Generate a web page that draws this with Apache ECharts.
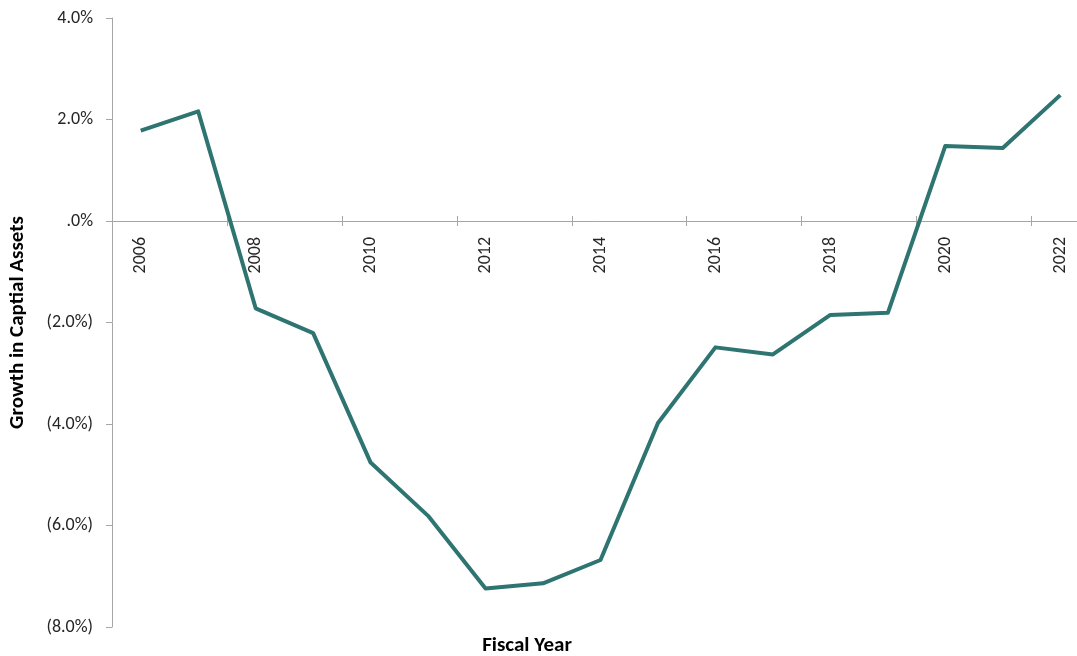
<!DOCTYPE html>
<html>
<head>
<meta charset="utf-8">
<script src="https://cdn.jsdelivr.net/npm/echarts@6/dist/echarts.min.js"></script>
<style>
  html, body { margin: 0; padding: 0; background: #fff; }
  #chart { width: 1077px; height: 656px; }
</style>
</head>
<body>
<div id="chart"></div>
<script>
// Fiscal years and annual growth in capital assets (percent)
const years = ['2006','2007','2008','2009','2010','2011','2012','2013','2014','2015','2016','2017','2018','2019','2020','2021','2022'];
const growth = [1.78, 2.16, -1.72, -2.21, -4.76, -5.81, -7.24, -7.14, -6.68, -3.98, -2.49, -2.63, -1.85, -1.81, 1.48, 1.44, 2.48];
const yTicks = { min: -8, max: 4, step: 2 };

const FONT = 'Carlito, Lato, "Liberation Sans", sans-serif';
const W = 1077, H = 656;
// the plot runs slightly past the right edge of the canvas
const grid = { left: 112, right: -12, top: 18, bottom: 29 };

// The category axis sits on the zero line, so shift it up from the grid bottom
const plotH = H - grid.top - grid.bottom;
const zeroFromBottom = plotH * (0 - yTicks.min) / (yTicks.max - yTicks.min);

function pct(v) {
  if (v === 0) return '.0%';
  return v < 0 ? '(' + Math.abs(v).toFixed(1) + '%)' : v.toFixed(1) + '%';
}

const axisGrey = '#a6a6a6';
const chart = echarts.init(document.getElementById('chart'));
chart.setOption({
  backgroundColor: '#ffffff',
  animation: false,
  grid: Object.assign({ containLabel: false, outerBoundsMode: 'none' }, grid),
  xAxis: [{
    type: 'category',
    data: years,
    boundaryGap: true,
    offset: -zeroFromBottom,
    axisLine: { onZero: false, lineStyle: { color: axisGrey, width: 1 } },
    axisTick: { show: true, interval: 1, length: 5, lineStyle: { color: axisGrey } },
    axisLabel: {
      interval: 1, rotate: 90, margin: 16,
      color: '#262626', fontFamily: FONT, fontSize: 18
    },
    splitLine: { show: false }
  }, {
    // upper half of the crossing tick marks
    type: 'category',
    data: years,
    boundaryGap: true,
    position: 'bottom',
    offset: -zeroFromBottom,
    axisLine: { show: false, onZero: false },
    axisTick: { show: true, inside: true, interval: 1, length: 5, lineStyle: { color: axisGrey } },
    axisLabel: { show: false },
    splitLine: { show: false }
  }],
  yAxis: {
    type: 'value',
    min: yTicks.min, max: yTicks.max, interval: yTicks.step,
    axisLine: { show: true, lineStyle: { color: axisGrey, width: 1 } },
    axisTick: { show: true, length: 6, lineStyle: { color: axisGrey } },
    axisLabel: {
      formatter: pct, margin: 19,
      color: '#262626', fontFamily: FONT, fontSize: 18
    },
    splitLine: { show: false },
    name: 'Growth in Captial Assets',
    nameLocation: 'middle',
    nameGap: 84,
    nameTextStyle: { color: '#000', fontFamily: FONT, fontSize: 21, fontWeight: 'bold' }
  },
  graphic: [{
    type: 'text',
    x: 527, y: 646,
    style: {
      text: 'Fiscal Year', fill: '#000', font: 'bold 21px ' + FONT,
      align: 'center', verticalAlign: 'middle'
    }
  }],
  series: [{
    type: 'line',
    xAxisIndex: 0,
    data: growth,
    symbol: 'none',
    lineStyle: { color: '#2e7471', width: 4, join: 'round' },
    itemStyle: { color: '#2e7471' }
  }]
});
</script>
</body>
</html>
